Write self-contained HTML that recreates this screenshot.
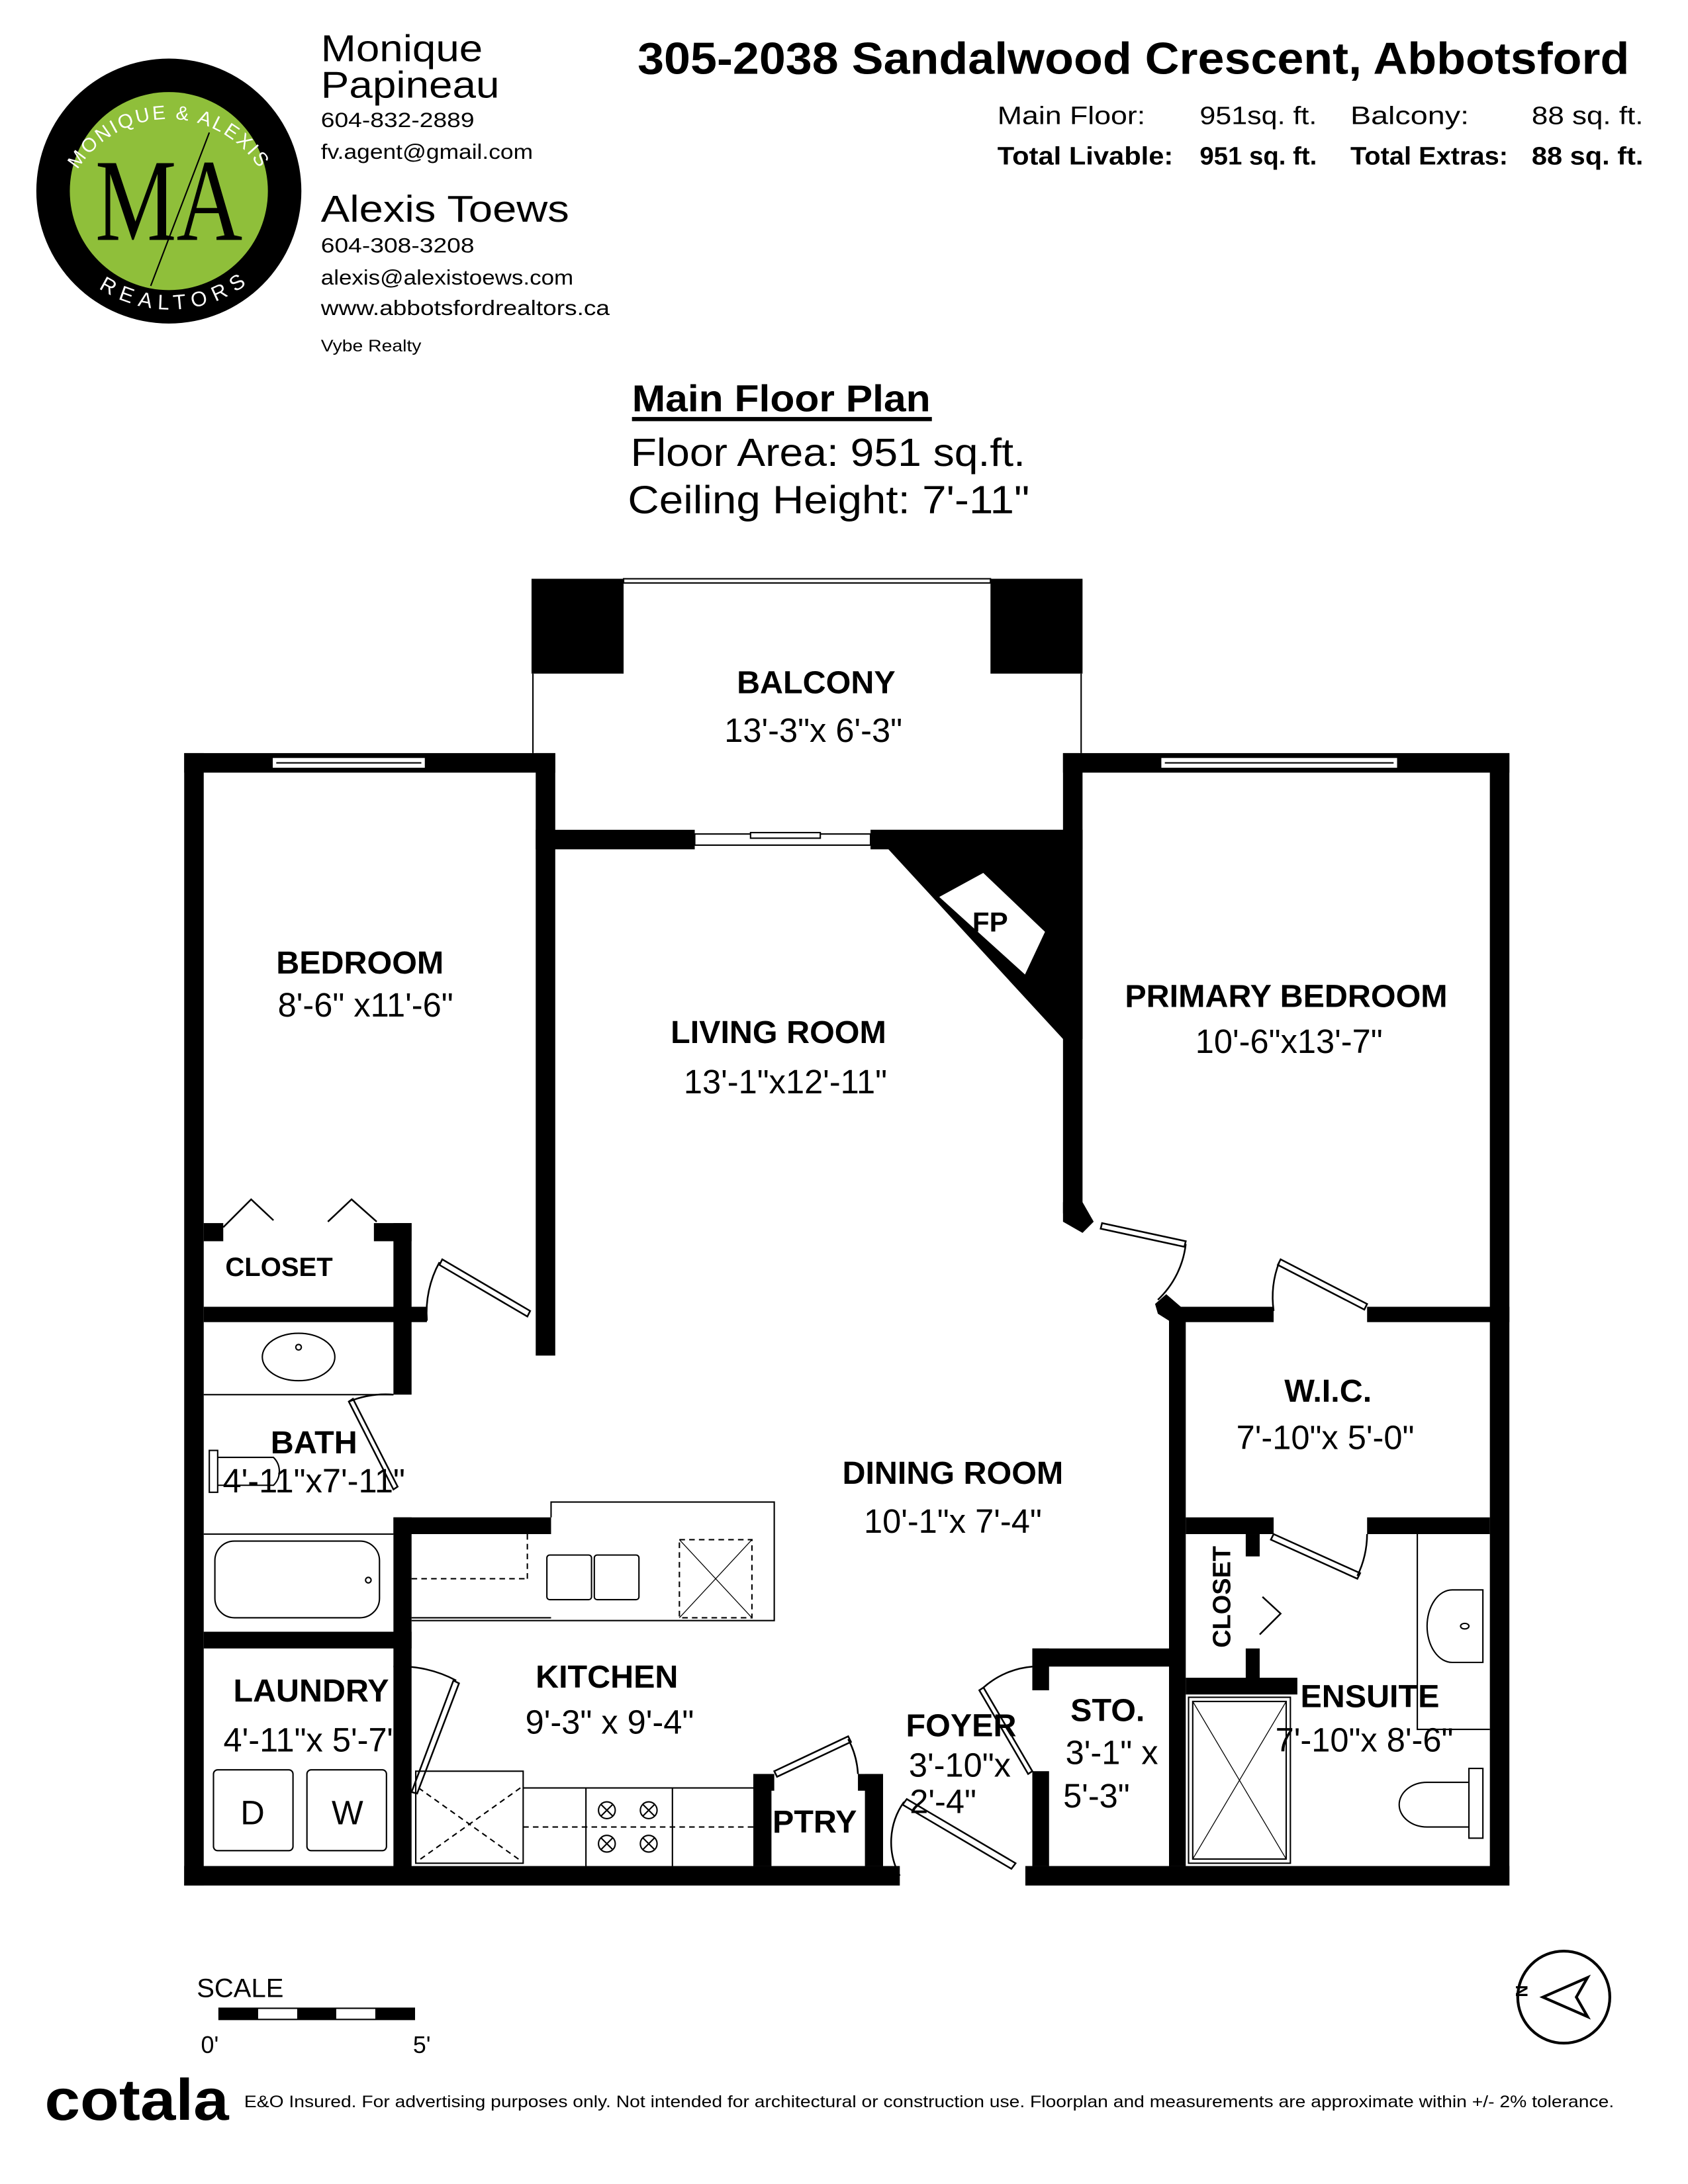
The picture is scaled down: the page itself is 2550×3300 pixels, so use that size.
<!DOCTYPE html>
<html><head><meta charset="utf-8"><style>
html,body{margin:0;padding:0;background:#fff}
svg{display:block}
text{font-family:"Liberation Sans",sans-serif;fill:#000}
.b{font-weight:bold}
</style></head><body>
<svg width="2550" height="3300" viewBox="0 0 1210 1566" xmlns="http://www.w3.org/2000/svg">
<defs>
<path id="arcTop" d="M45,150 A77,77 0 0 1 197,150"/>
<path id="arcBot" d="M62,185 A82,82 0 0 0 186,180"/>
</defs>
<!-- Logo -->
<circle cx="121" cy="137" r="95" fill="#000"/>
<circle cx="121" cy="137" r="71" fill="#8fbf3a"/>
<text x="121" y="172" font-size="84" text-anchor="middle" style="font-family:'Liberation Serif',serif" transform="translate(121,0) scale(0.78,1) translate(-121,0)">MA</text>
<line x1="150" y1="95" x2="108" y2="205" stroke="#000" stroke-width="1"/>
<text font-size="14" style="fill:#fff;letter-spacing:1.5px"><textPath href="#arcTop" startOffset="50%" text-anchor="middle">MONIQUE &amp; ALEXIS</textPath></text>
<text font-size="15" style="fill:#fff;letter-spacing:3px"><textPath href="#arcBot" startOffset="50%" text-anchor="middle" dominant-baseline="hanging">REALTORS</textPath></text>
<!-- contacts -->
<text x="230" y="44" font-size="27" textLength="116" lengthAdjust="spacingAndGlyphs">Monique</text>
<text x="230" y="70" font-size="27" textLength="128" lengthAdjust="spacingAndGlyphs">Papineau</text>
<text x="230" y="91" font-size="15" textLength="110" lengthAdjust="spacingAndGlyphs">604-832-2889</text>
<text x="230" y="114" font-size="15" textLength="152" lengthAdjust="spacingAndGlyphs">fv.agent@gmail.com</text>
<text x="230" y="159" font-size="27" textLength="178" lengthAdjust="spacingAndGlyphs">Alexis Toews</text>
<text x="230" y="181" font-size="15" textLength="110" lengthAdjust="spacingAndGlyphs">604-308-3208</text>
<text x="230" y="204" font-size="15" textLength="181" lengthAdjust="spacingAndGlyphs">alexis@alexistoews.com</text>
<text x="230" y="226" font-size="15" textLength="207" lengthAdjust="spacingAndGlyphs">www.abbotsfordrealtors.ca</text>
<text x="230" y="252" font-size="12" textLength="72" lengthAdjust="spacingAndGlyphs">Vybe Realty</text>
<!-- title -->
<text x="457" y="53" font-size="32" class="b" textLength="711" lengthAdjust="spacingAndGlyphs">305-2038 Sandalwood Crescent, Abbotsford</text>
<text x="715" y="89" font-size="18" textLength="106" lengthAdjust="spacingAndGlyphs">Main Floor:</text>
<text x="860" y="89" font-size="18" textLength="84" lengthAdjust="spacingAndGlyphs">951sq. ft.</text>
<text x="968" y="89" font-size="18" textLength="85" lengthAdjust="spacingAndGlyphs">Balcony:</text>
<text x="1098" y="89" font-size="18" textLength="80" lengthAdjust="spacingAndGlyphs">88 sq. ft.</text>
<text x="715" y="118" font-size="18" class="b" textLength="126" lengthAdjust="spacingAndGlyphs">Total Livable:</text>
<text x="860" y="118" font-size="18" class="b" textLength="84" lengthAdjust="spacingAndGlyphs">951 sq. ft.</text>
<text x="968" y="118" font-size="18" class="b" textLength="113" lengthAdjust="spacingAndGlyphs">Total Extras:</text>
<text x="1098" y="118" font-size="18" class="b" textLength="80" lengthAdjust="spacingAndGlyphs">88 sq. ft.</text>
<text x="453" y="295" font-size="27" class="b" textLength="214" lengthAdjust="spacingAndGlyphs">Main Floor Plan</text>
<rect x="453" y="299" width="215" height="3"/>
<text x="452" y="334" font-size="28" textLength="283" lengthAdjust="spacingAndGlyphs">Floor Area: 951 sq.ft.</text>
<text x="450" y="368" font-size="28" textLength="288" lengthAdjust="spacingAndGlyphs">Ceiling Height: 7'-11"</text>

<!-- Balcony -->
<rect x="381" y="415" width="66" height="68"/>
<rect x="710" y="415" width="66" height="68"/>
<rect x="447" y="415" width="263" height="3" fill="none" stroke="#000" stroke-width="1"/>
<line x1="382" y1="483" x2="382" y2="540" stroke="#000"/>
<line x1="775" y1="483" x2="775" y2="540" stroke="#000"/>

<!-- walls -->
<g fill="#000">
<rect x="132" y="540" width="14" height="812"/>
<rect x="132" y="1338" width="513" height="14"/>
<rect x="735" y="1338" width="347" height="14"/>
<rect x="1068" y="540" width="14" height="812"/>
<rect x="132" y="540" width="266" height="14"/>
<rect x="384" y="540" width="14" height="432"/>
<rect x="384" y="595" width="114" height="14"/>
<rect x="624" y="595" width="152" height="14"/>
<rect x="762" y="540" width="320" height="14"/>
<rect x="762" y="540" width="14" height="330"/>
<polygon points="624,595 776,595 776,745 762,745"/>
<polygon points="762,862 776,862 784,876 776,884 762,876"/>
<polygon points="828,935 836,928 850,940 850,947 838,947 830,942"/>
<rect x="838" y="940" width="12" height="398"/>
<rect x="838" y="937" width="75" height="11"/>
<rect x="980" y="937" width="102" height="11"/>
<rect x="850" y="1088" width="63" height="12"/>
<rect x="980" y="1088" width="88" height="12"/>
<rect x="893" y="1100" width="10" height="16"/>
<rect x="893" y="1182" width="10" height="23"/>
<rect x="850" y="1203" width="80" height="12"/>
<rect x="740" y="1182" width="98" height="13"/>
<rect x="740" y="1182" width="12" height="30"/>
<rect x="740" y="1270" width="12" height="68"/>
<rect x="540" y="1272" width="13" height="66"/>
<rect x="540" y="1272" width="15" height="12"/>
<rect x="620" y="1272" width="13" height="66"/>
<rect x="615" y="1272" width="18" height="12"/>
<rect x="146" y="877" width="14" height="13"/>
<rect x="268" y="877" width="27" height="13"/>
<rect x="282" y="877" width="13" height="123"/>
<rect x="146" y="937" width="160" height="11"/>
<rect x="282" y="1088" width="13" height="262"/>
<rect x="282" y="1088" width="113" height="12"/>
<rect x="146" y="1170" width="149" height="12"/>
</g>
<!-- windows -->
<rect x="195" y="543" width="110" height="8" fill="#fff" stroke="#000" stroke-width="1"/>
<line x1="198" y1="547" x2="302" y2="547" stroke="#000"/>
<rect x="832" y="543" width="170" height="8" fill="#fff" stroke="#000" stroke-width="1"/>
<line x1="835" y1="547" x2="999" y2="547" stroke="#000"/>
<!-- sliding door -->
<rect x="498" y="598" width="126" height="8" fill="#fff" stroke="#000" stroke-width="1"/>
<rect x="538" y="597" width="50" height="4" fill="#fff" stroke="#000" stroke-width="1"/>
<!-- FP -->
<polygon points="672,643 705,625 750,668 735,700" fill="#fff" stroke="#000" stroke-width="1.5"/>
<text x="697" y="668" font-size="20" class="b">FP</text>
<!-- doors -->
<g fill="none" stroke="#000" stroke-width="1.2">
<polygon points="317,903 380,940 378,944 315,907"/>
<path d="M315,905 A75,75 0 0 0 306,947"/>
<polygon points="790,877 850,890 849,894 789,881"/>
<path d="M850,892 A65,65 0 0 1 830,932"/>
<polygon points="918,903 980,935 978,939 916,907"/>
<path d="M917,905 A70,70 0 0 0 913,940"/>
<polygon points="913,1100 975,1128 973,1132 911,1104"/>
<path d="M980,1100 A70,70 0 0 1 973,1130"/>
<polygon points="250,1005 282,1068 285,1066 253,1003"/>
<path d="M250,1005 A70,70 0 0 1 282,1000"/>
<polygon points="325,1205 295,1285 299,1286 329,1207"/>
<path d="M282,1195 A85,85 0 0 1 327,1205"/>
<polygon points="555,1270 608,1245 610,1249 557,1274"/>
<path d="M608,1247 A60,60 0 0 1 615,1272"/>
<polygon points="705,1210 740,1270 737,1272 702,1212"/>
<path d="M705,1210 A60,60 0 0 1 740,1195"/>
<polygon points="650,1290 728,1336 725,1340 647,1294"/>
<path d="M648,1292 A50,50 0 0 0 645,1345"/>
<polyline points="160,880 180,860 196,875"/>
<polyline points="235,876 252,860 270,876"/>
<polyline points="905,1145 918,1157 903,1172"/>
</g>
<!-- fixtures -->
<g fill="none" stroke="#000" stroke-width="1">
<ellipse cx="214" cy="973" rx="26" ry="17"/><circle cx="214" cy="966" r="2"/>
<line x1="146" y1="1000" x2="282" y2="1000"/>
<line x1="146" y1="1100" x2="282" y2="1100"/>
<rect x="154" y="1105" width="118" height="55" rx="14"/><circle cx="264" cy="1133" r="2"/>
<path d="M150,1040 h6 v30 h-6 z M156,1045 h40 a14,14 0 0 1 0,20 h-40"/>
<line x1="295" y1="1160" x2="395" y2="1160"/>
<line x1="295" y1="1132" x2="378" y2="1132" stroke-dasharray="4,3"/>
<line x1="378" y1="1100" x2="378" y2="1132" stroke-dasharray="4,3"/>
<polyline points="395,1088 395,1077 555,1077 555,1162 295,1162"/>
<rect x="392" y="1115" width="32" height="32" rx="2"/><rect x="426" y="1115" width="32" height="32" rx="2"/>
<rect x="487" y="1104" width="52" height="56" stroke-dasharray="4,3"/>
<line x1="487" y1="1104" x2="539" y2="1160" stroke-width=".6"/><line x1="539" y1="1104" x2="487" y2="1160" stroke-width=".6"/>
<rect x="153" y="1269" width="57" height="58" rx="3"/><rect x="220" y="1269" width="57" height="58" rx="3"/>
<rect x="298" y="1270" width="77" height="66"/>
<line x1="300" y1="1282" x2="373" y2="1334" stroke-dasharray="4,3"/><line x1="373" y1="1282" x2="300" y2="1334" stroke-dasharray="4,3"/>
<line x1="375" y1="1282" x2="540" y2="1282"/><line x1="375" y1="1310" x2="540" y2="1310" stroke-dasharray="4,3"/>
<line x1="420" y1="1282" x2="420" y2="1338"/><line x1="482" y1="1282" x2="482" y2="1338"/>
<g stroke-width="1"><circle cx="435" cy="1298" r="6"/><circle cx="465" cy="1298" r="6"/><circle cx="435" cy="1322" r="6"/><circle cx="465" cy="1322" r="6"/>
<path d="M431,1294 l8,8 M439,1294 l-8,8 M461,1294 l8,8 M469,1294 l-8,8 M431,1318 l8,8 M439,1318 l-8,8 M461,1318 l8,8 M469,1318 l-8,8"/></g>
<rect x="852" y="1217" width="73" height="119"/><rect x="855" y="1220" width="67" height="113"/>
<line x1="855" y1="1220" x2="922" y2="1333" stroke-width=".6"/><line x1="922" y1="1220" x2="855" y2="1333" stroke-width=".6"/>
<polyline points="1016,1100 1016,1240 1068,1240"/>
<path d="M1063,1140 h-22 a18,26 0 0 0 0,52 h22 z"/><ellipse cx="1050" cy="1166" rx="3" ry="2"/>
<path d="M1063,1268 h-10 v50 h10 z M1053,1278 h-30 a20,16 0 0 0 0,32 h30"/>
</g>
<!-- room labels -->
<g text-anchor="middle">
<text x="585" y="497" font-size="23" class="b">BALCONY</text>
<text x="583" y="532" font-size="24">13'-3"x 6'-3"</text>
<text x="258" y="698" font-size="23" class="b">BEDROOM</text>
<text x="262" y="729" font-size="24">8'-6" x11'-6"</text>
<text x="558" y="748" font-size="23" class="b">LIVING ROOM</text>
<text x="563" y="784" font-size="24">13'-1"x12'-11"</text>
<text x="922" y="722" font-size="23" class="b">PRIMARY BEDROOM</text>
<text x="924" y="755" font-size="24">10'-6"x13'-7"</text>
<text x="200" y="915" font-size="19" class="b">CLOSET</text>
<text x="225" y="1042" font-size="23" class="b">BATH</text>
<text x="225" y="1070" font-size="24">4'-11"x7'-11"</text>
<text x="952" y="1005" font-size="23" class="b">W.I.C.</text>
<text x="950" y="1039" font-size="24">7'-10"x 5'-0"</text>
<text x="683" y="1064" font-size="23" class="b">DINING ROOM</text>
<text x="683" y="1099" font-size="24">10'-1"x 7'-4"</text>
<text x="223" y="1220" font-size="23" class="b">LAUNDRY</text>
<text x="223" y="1256" font-size="24">4'-11"x 5'-7"</text>
<text x="435" y="1210" font-size="23" class="b">KITCHEN</text>
<text x="437" y="1243" font-size="24">9'-3" x 9'-4"</text>
<text x="689" y="1245" font-size="23" class="b">FOYER</text>
<text x="688" y="1274" font-size="24">3'-10"x</text>
<text x="676" y="1300" font-size="24">2'-4"</text>
<text x="794" y="1234" font-size="23" class="b">STO.</text>
<text x="797" y="1265" font-size="24">3'-1" x</text>
<text x="786" y="1296" font-size="24">5'-3"</text>
<text x="982" y="1224" font-size="23" class="b">ENSUITE</text>
<text x="978" y="1256" font-size="24">7'-10"x 8'-6"</text>
<text x="584" y="1314" font-size="23" class="b">PTRY</text>
<text x="181" y="1308" font-size="24">D</text>
<text x="249" y="1308" font-size="24">W</text>
<text x="882" y="1145" font-size="18" class="b" transform="rotate(-90 882 1145)">CLOSET</text>
</g>
<!-- scale -->
<text x="141" y="1432" font-size="19">SCALE</text>
<rect x="157" y="1440" width="140" height="8" fill="none" stroke="#000"/>
<path d="M157,1440 h28 v8 h-28z M213,1440 h28 v8 h-28z M269,1440 h28 v8 h-28z"/>
<text x="144" y="1472" font-size="17">0'</text>
<text x="296" y="1472" font-size="17">5'</text>
<!-- north -->
<circle cx="1121" cy="1432" r="33" fill="none" stroke="#000" stroke-width="2"/>
<polygon points="1106,1432 1138,1418 1130,1432 1138,1446" fill="none" stroke="#000" stroke-width="2"/>
<text x="1090" y="1437" font-size="12" class="b" transform="rotate(-90 1090 1432)">N</text>
<!-- footer -->
<text x="32" y="1520" font-size="42" class="b" textLength="132" lengthAdjust="spacingAndGlyphs">cotala</text>
<text x="175" y="1511" font-size="12" textLength="982" lengthAdjust="spacingAndGlyphs">E&amp;O Insured. For advertising purposes only. Not intended for architectural or construction use. Floorplan and measurements are approximate within +/- 2% tolerance.</text>
</svg>
</body></html>
